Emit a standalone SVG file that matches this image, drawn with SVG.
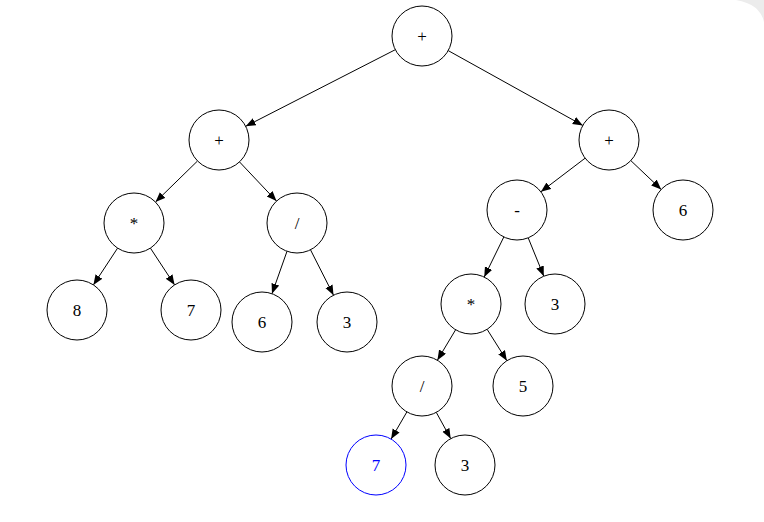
<svg xmlns="http://www.w3.org/2000/svg" width="764" height="522" viewBox="0 0 764 522">
<style>
.n circle{fill:#fff;stroke:#000;stroke-width:1}
.n text{font-family:"Liberation Serif","Times New Roman",serif;font-size:17px;text-anchor:middle;fill:#000}
.n.sel circle{stroke:#0000ff}
.n.sel text{fill:#0000ff}
.e line{stroke:#000;stroke-width:1;marker-end:url(#arr)}
</style>
<defs>
<marker id="arr" markerUnits="userSpaceOnUse" markerWidth="11" markerHeight="9" refX="10" refY="4" orient="auto">
<path d="M0,0 L10,4 L0,8 z" fill="#000"/>
</marker>
</defs>
<rect width="764" height="522" fill="#fff"/>
<path d="M736,0 L764,0 L764,22 Q760,4 736,0 Z" fill="#ececec"/>
<g id="connectors" class="e">
<line x1="395.3" y1="49.7" x2="245.7" y2="126.3"/>
<line x1="448.2" y1="50.6" x2="582.8" y2="125.4"/>
<line x1="197.5" y1="161.0" x2="155.5" y2="202.0"/>
<line x1="239.5" y1="161.9" x2="276.5" y2="201.1"/>
<line x1="117.6" y1="248.1" x2="93.4" y2="284.9"/>
<line x1="150.4" y1="248.1" x2="174.6" y2="284.9"/>
<line x1="287" y1="251.3" x2="272" y2="293.7"/>
<line x1="310.5" y1="249.8" x2="333.5" y2="295.2"/>
<line x1="585.1" y1="158.2" x2="540.9" y2="191.8"/>
<line x1="630.8" y1="160.6" x2="661.2" y2="189.4"/>
<line x1="503.8" y1="237.0" x2="484.2" y2="277.1"/>
<line x1="528.2" y1="237.8" x2="543.8" y2="276.2"/>
<line x1="455.6" y1="329.8" x2="437.4" y2="360.2"/>
<line x1="487.1" y1="329.3" x2="506.9" y2="360.7"/>
<line x1="406.9" y1="411.9" x2="391.1" y2="439.1"/>
<line x1="436.3" y1="412.4" x2="450.7" y2="438.6"/>
</g>
<g id="n-root" class="n"><circle cx="422" cy="36" r="30"/><text x="422" y="42">+</text></g>
<g id="n-plus-l" class="n"><circle cx="219" cy="140" r="30"/><text x="219" y="146">+</text></g>
<g id="n-plus-r" class="n"><circle cx="609" cy="140" r="30"/><text x="609" y="146">+</text></g>
<g id="n-mul-l" class="n"><circle cx="134" cy="223" r="30"/><text x="134" y="229">*</text></g>
<g id="n-div-l" class="n"><circle cx="297" cy="223" r="30"/><text x="297" y="229">/</text></g>
<g id="n-minus" class="n"><circle cx="517" cy="210" r="30"/><text x="517" y="216">-</text></g>
<g id="n-6a" class="n"><circle cx="683" cy="210" r="30"/><text x="683" y="216">6</text></g>
<g id="n-8" class="n"><circle cx="77" cy="310" r="30"/><text x="77" y="316">8</text></g>
<g id="n-7a" class="n"><circle cx="191" cy="310" r="30"/><text x="191" y="316">7</text></g>
<g id="n-6b" class="n"><circle cx="262" cy="322" r="30"/><text x="262" y="328">6</text></g>
<g id="n-3a" class="n"><circle cx="347" cy="322" r="30"/><text x="347" y="328">3</text></g>
<g id="n-mul-r" class="n"><circle cx="471" cy="304" r="30"/><text x="471" y="310">*</text></g>
<g id="n-3b" class="n"><circle cx="555" cy="304" r="30"/><text x="555" y="310">3</text></g>
<g id="n-div-r" class="n"><circle cx="422" cy="386" r="30"/><text x="422" y="392">/</text></g>
<g id="n-5" class="n"><circle cx="523" cy="386" r="30"/><text x="523" y="392">5</text></g>
<g id="n-7b" class="n sel"><circle cx="376" cy="465" r="30"/><text x="376" y="471">7</text></g>
<g id="n-3c" class="n"><circle cx="465" cy="465" r="30"/><text x="465" y="471">3</text></g>
</svg>
